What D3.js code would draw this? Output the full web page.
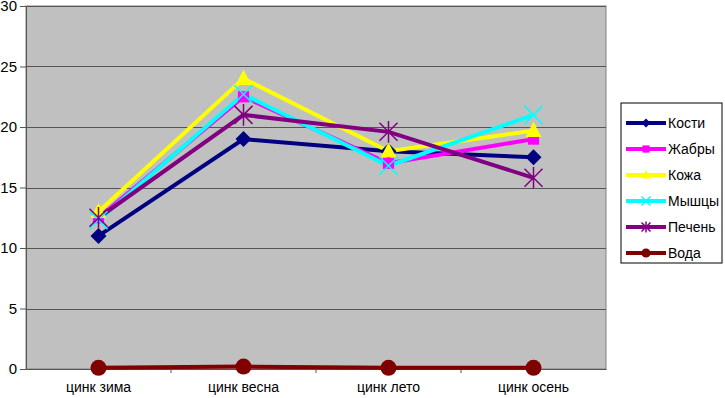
<!DOCTYPE html>
<html>
<head>
<meta charset="utf-8">
<script src="https://cdn.jsdelivr.net/npm/d3@7"></script>
<style>
  body { margin: 0; background: #fff; }
  svg { display: block; font-family: "Liberation Sans", Arial, sans-serif; }
</style>
</head>
<body>
<div id="viz"></div>
<script>
// data
const categories = ['цинк зима', 'цинк весна', 'цинк лето', 'цинк осень'];
const seriesNames = ['Кости', 'Жабры', 'Кожа', 'Мышцы', 'Печень', 'Вода'];
const kosti  = [11.0, 19.0, 18.0, 17.5];
const zhabry = [12.5, 22.5, 17.0, 19.0];
const kozha  = [13.0, 24.0, 18.0, 19.7];
const myshcy = [12.3, 22.7, 16.8, 21.0];
const pechen = [12.5, 21.0, 19.6, 15.8];
const voda   = [0.1, 0.2, 0.1, 0.1];
const yTicks = [0, 5, 10, 15, 20, 25, 30];

const seriesValues = [kosti, zhabry, kozha, myshcy, pechen, voda];
const colors = ['#000080', '#ff00ff', '#ffff00', '#00ffff', '#800080', '#800000'];
const markers = ['diamond', 'square', 'triangle', 'x', 'star', 'circle'];

const width = 725, height = 398;
const margin = {top: 6, right: 119, bottom: 29, left: 26};
const boundedWidth = width - margin.left - margin.right;
const boundedHeight = height - margin.top - margin.bottom;

const svg = d3.select('#viz').append('svg')
    .attr('width', width)
    .attr('height', height);

const viz = svg.append('g')
    .attr('transform', `translate(${margin.left}, ${margin.top})`);

const xScale = d3.scaleBand()
    .domain(categories)
    .range([0, boundedWidth]);

const yScale = d3.scaleLinear()
    .domain([0, 30])
    .range([boundedHeight, 0]);

const xPos = c => xScale(c) + xScale.bandwidth() / 2;

// plot background
viz.append('rect')
    .attr('width', boundedWidth)
    .attr('height', boundedHeight)
    .attr('fill', '#c0c0c0')
    .attr('stroke', '#808080')
    .attr('stroke-width', 1);

// grid lines
viz.append('g')
    .selectAll('line')
    .data(yTicks.filter(t => t > 0))
    .join('line')
        .attr('x1', 0)
        .attr('x2', boundedWidth)
        .attr('y1', d => Math.round(yScale(d)) + 0.5)
        .attr('y2', d => Math.round(yScale(d)) + 0.5)
        .attr('stroke', '#555')
        .attr('stroke-width', 1);

// y axis
const yAxis = d3.axisLeft(yScale)
    .tickValues(yTicks)
    .tickSize(6)
    .tickPadding(3);
const yG = viz.append('g').call(yAxis);
yG.select('.domain').attr('stroke', '#555');
yG.selectAll('.tick line').attr('stroke', '#555');
yG.selectAll('.tick text').attr('font-size', 15).attr('fill', '#000')
    .attr('font-family', '"Liberation Sans", Arial, sans-serif');

// x axis
const xAxis = d3.axisBottom(xScale).tickSize(0).tickPadding(13);
const xG = viz.append('g')
    .attr('transform', `translate(0, ${boundedHeight})`)
    .call(xAxis);
xG.select('.domain').attr('stroke', '#555');
xG.selectAll('.tick text').attr('font-size', 14).attr('fill', '#000')
    .attr('font-family', '"Liberation Sans", Arial, sans-serif');
xG.selectAll('.sep')
    .data(categories.slice(1))
    .join('line')
        .attr('class', 'sep')
        .attr('x1', d => xScale(d))
        .attr('x2', d => xScale(d))
        .attr('y1', 0)
        .attr('y2', 4)
        .attr('stroke', '#555');

// markers
function drawMarker(g, type, color, s) {
    if (type === 'diamond') {
        g.append('path').attr('d', `M0,${-s}L${s},0L0,${s}L${-s},0Z`).attr('fill', color);
    } else if (type === 'square') {
        g.append('rect').attr('x', -s * 0.8).attr('y', -s * 0.8)
            .attr('width', s * 1.6).attr('height', s * 1.6).attr('fill', color);
    } else if (type === 'triangle') {
        g.append('path').attr('d', `M0,${-s * 1.1}L${s},${s * 0.8}L${-s},${s * 0.8}Z`).attr('fill', color);
    } else if (type === 'x') {
        g.append('path').attr('d', `M${-s},${-s}L${s},${s}M${s},${-s}L${-s},${s}`)
            .attr('stroke', color).attr('stroke-width', 1.5);
    } else if (type === 'star') {
        g.append('path').attr('d', `M${-s},${-s}L${s},${s}M${s},${-s}L${-s},${s}M0,${-s * 1.2}L0,${s * 1.2}`)
            .attr('stroke', color).attr('stroke-width', 1.5);
    } else if (type === 'circle') {
        g.append('circle').attr('r', s).attr('fill', color);
    }
}

const line = d3.line()
    .x((d, i) => xPos(categories[i]))
    .y(d => yScale(d));

const markerSize = [8, 7, 8, 9, 9, 8];

seriesValues.forEach((vals, k) => {
    viz.append('path')
        .datum(vals)
        .attr('d', line)
        .attr('fill', 'none')
        .attr('stroke', colors[k])
        .attr('stroke-width', 4)
        .attr('stroke-linejoin', 'miter');
});
seriesValues.forEach((vals, k) => {
    vals.forEach((v, i) => {
        const g = viz.append('g')
            .attr('transform', `translate(${xPos(categories[i])}, ${yScale(v)})`);
        drawMarker(g, markers[k], colors[k], markerSize[k]);
    });
});

// legend
const legend = svg.append('g').attr('transform', 'translate(621, 103)');
legend.append('rect')
    .attr('width', 101)
    .attr('height', 160)
    .attr('fill', '#fff')
    .attr('stroke', '#000')
    .attr('stroke-width', 1);

const legendY = d3.scalePoint()
    .domain(seriesNames)
    .range([20, 150]);

seriesNames.forEach((name, k) => {
    const y = legendY(name);
    legend.append('line')
        .attr('x1', 5).attr('x2', 45)
        .attr('y1', y).attr('y2', y)
        .attr('stroke', colors[k])
        .attr('stroke-width', 4);
    const g = legend.append('g').attr('transform', `translate(25, ${y})`);
    drawMarker(g, markers[k], colors[k], 4.5);
    legend.append('text')
        .attr('x', 47)
        .attr('y', y)
        .attr('dy', '0.35em')
        .attr('font-size', 14)
        .text(name);
});
</script>
</body>
</html>
